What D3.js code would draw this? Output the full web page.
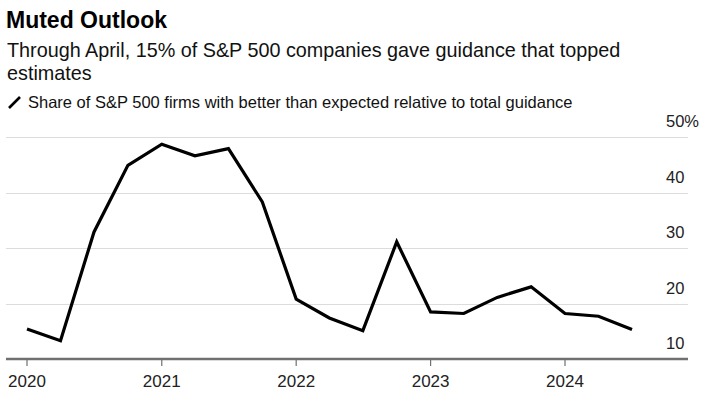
<!DOCTYPE html>
<html>
<head>
<meta charset="utf-8">
<script src="https://cdn.jsdelivr.net/npm/d3@7"></script>
<style>
  body { margin: 0; background: #fff; }
  svg { font-family: "Liberation Sans", Arial, sans-serif; }
</style>
</head>
<body>
<svg id="chart" width="718" height="396"></svg>
<script>
const WIDTH = 718;
const HEIGHT = 396;

// quarterly share of firms with better-than-expected guidance (%)
const quarters = [
  "2020-01", "2020-04", "2020-07", "2020-10",
  "2021-01", "2021-04", "2021-07", "2021-10",
  "2022-01", "2022-04", "2022-07", "2022-10",
  "2023-01", "2023-04", "2023-07", "2023-10",
  "2024-01", "2024-04", "2024-07"
];
const shares = [
  15.4, 13.3, 32.9, 44.9,
  48.7, 46.6, 47.9, 38.3,
  20.8, 17.4, 15.1, 31.1,
  18.5, 18.2, 21.1, 23.0,
  18.2, 17.7, 15.3
];
const yTicks = [10, 20, 30, 40, 50];
const xTicks = [2020, 2021, 2022, 2023, 2024];

const titleText = "Muted Outlook";
const subtitleLines = [
  "Through April, 15% of S&P 500 companies gave guidance that topped",
  "estimates"
];
const legendText = "Share of S&P 500 firms with better than expected relative to total guidance";

const parse = d3.timeParse("%Y-%m");
const data = quarters.map((q, i) => ({ date: parse(q), value: shares[i] }));

const PLOT = { left: 6, right: 688, top: 137, bottom: 359 };

const svg = d3.select("#chart");

const x = d3.scaleTime()
  .domain([new Date(2020, 0, 1), new Date(2024, 0, 1)])
  .range([27, 565]);

const y = d3.scaleLinear()
  .domain([10, 50])
  .range([PLOT.bottom, PLOT.top]);

// title block
svg.append("text")
  .attr("x", 6)
  .attr("y", 28)
  .style("font-size", "23px")
  .style("font-weight", "bold")
  .style("fill", "#000")
  .text(titleText);

svg.append("g").selectAll("text")
  .data(subtitleLines)
  .enter().append("text")
  .attr("x", 7)
  .attr("y", (d, i) => 57 + i * 23)
  .style("font-size", "19.8px")
  .style("fill", "#111")
  .text(d => d);

// legend
svg.append("line")
  .attr("x1", 9).attr("y1", 108)
  .attr("x2", 20).attr("y2", 97)
  .attr("stroke", "#000")
  .attr("stroke-width", 2.6);

svg.append("text")
  .attr("x", 28)
  .attr("y", 108)
  .style("font-size", "16.5px")
  .style("fill", "#111")
  .text(legendText);

// gridlines
svg.append("g").selectAll("line")
  .data(yTicks.filter(d => d > 10))
  .enter().append("line")
  .attr("x1", PLOT.left)
  .attr("x2", PLOT.right)
  .attr("y1", d => Math.round(y(d)) + 0.5)
  .attr("y2", d => Math.round(y(d)) + 0.5)
  .attr("stroke", "#dcdcdc")
  .attr("stroke-width", 1);

// y labels (right side, above gridlines)
svg.append("g").selectAll("text")
  .data(yTicks)
  .enter().append("text")
  .attr("x", 666)
  .attr("y", d => y(d) - 10)
  .style("font-size", "16.5px")
  .style("fill", "#222")
  .text(d => d === 50 ? d + "%" : d);

// x axis
const xAxis = svg.append("g")
  .attr("transform", `translate(0,${PLOT.bottom})`);

xAxis.append("line")
  .attr("x1", PLOT.left)
  .attr("x2", PLOT.right)
  .attr("stroke", "#707070")
  .attr("stroke-width", 2.5);

xAxis.selectAll("line.tick")
  .data(xTicks)
  .enter().append("line")
  .attr("class", "tick")
  .attr("x1", d => x(new Date(d, 0, 1)))
  .attr("x2", d => x(new Date(d, 0, 1)))
  .attr("y1", 0)
  .attr("y2", 7)
  .attr("stroke", "#707070")
  .attr("stroke-width", 1.2);

xAxis.selectAll("text")
  .data(xTicks)
  .enter().append("text")
  .attr("x", d => x(new Date(d, 0, 1)))
  .attr("y", 28)
  .attr("text-anchor", "middle")
  .style("font-size", "17px")
  .style("fill", "#222")
  .text(d => d);

// series line
const line = d3.line()
  .x(d => x(d.date))
  .y(d => y(d.value));

svg.append("path")
  .datum(data)
  .attr("d", line)
  .attr("fill", "none")
  .attr("stroke", "#000")
  .attr("stroke-width", 3.2)
  .attr("stroke-linejoin", "miter");
</script>
</body>
</html>
